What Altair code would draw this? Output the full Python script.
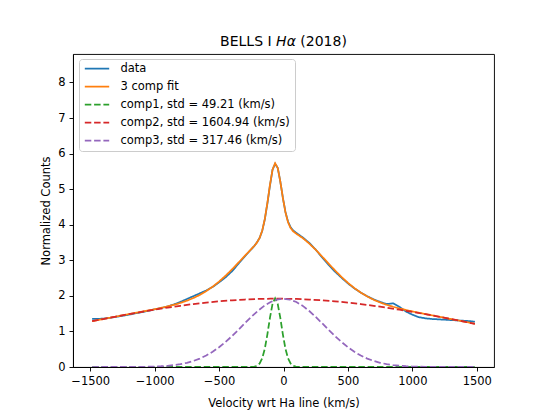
import altair as alt
import pandas as pd

# ---------------- data ----------------
NAMES = [
    "data",
    "3 comp fit",
    "comp1, std = 49.21 (km/s)",
    "comp2, std = 1604.94 (km/s)",
    "comp3, std = 317.46 (km/s)",
]
COLORS = ["#1f77b4", "#ff7f0e", "#2ca02c", "#d62728", "#9467bd"]
DASHES = [[1, 0], [1, 0], [6.5, 2.8], [6.5, 2.8], [6.5, 2.8]]

# velocity grid of the observed spectrum and of the total fit
X_SPEC = [
    -1485, -1450, -1400, -1350, -1300, -1250, -1200, -1150, -1100, -1050,
    -1000, -950, -900, -850, -800, -750, -700, -650, -600, -550,
    -500, -450, -400, -350, -300,
    -285, -265, -245, -225, -205, -185, -165, -145, -125, -105,
    -85, -65, -45, -25, -5, 15, 35, 55, 75, 95, 115,
    150, 200, 250, 300, 350, 400, 450, 500, 550, 600,
    650, 700, 750, 800, 850, 900, 950, 1000, 1050, 1100,
    1150, 1200, 1250, 1300, 1350, 1400, 1450, 1485,
]
FIT = [
    1.288, 1.313, 1.348, 1.383, 1.418, 1.453, 1.487, 1.521, 1.555, 1.589,
    1.624, 1.662, 1.704, 1.749, 1.801, 1.864, 1.938, 2.026, 2.133, 2.257,
    2.401, 2.564, 2.743, 2.933, 3.126,
    3.183, 3.259, 3.334, 3.412, 3.504, 3.632, 3.837, 4.161, 4.613, 5.124,
    5.549, 5.730, 5.598, 5.221, 4.757, 4.351, 4.071, 3.906, 3.815, 3.758, 3.710,
    3.622, 3.471, 3.295, 3.104, 2.907, 2.714, 2.532, 2.366, 2.218, 2.091,
    1.982, 1.890, 1.814, 1.749, 1.694, 1.646, 1.603, 1.563, 1.526, 1.490,
    1.455, 1.420, 1.384, 1.348, 1.313, 1.277, 1.241, 1.215,
]
DATA = [
    1.35, 1.35, 1.36, 1.38, 1.41, 1.44, 1.47, 1.51, 1.54, 1.58,
    1.62, 1.66, 1.70, 1.76, 1.83, 1.91, 1.99, 2.07, 2.15, 2.25,
    2.38, 2.52, 2.69, 2.90, 3.11,
    3.17, 3.25, 3.33, 3.41, 3.51, 3.63, 3.83, 4.15, 4.60, 5.10,
    5.55, 5.71, 5.60, 5.22, 4.76, 4.36, 4.09, 3.93, 3.84, 3.78, 3.73,
    3.64, 3.49, 3.30, 3.08, 2.87, 2.68, 2.51, 2.35, 2.21, 2.09,
    1.99, 1.90, 1.83, 1.77, 1.79, 1.69, 1.56, 1.47, 1.40, 1.37,
    1.35, 1.34, 1.33, 1.32, 1.31, 1.30, 1.29, 1.27,
]

# narrow component (comp1)
X_C1 = [-1485, -265, -245, -225, -205, -185, -165, -145, -125, -105, -85,
        -65, -45, -25, -5, 15, 35, 55, 75, 95, 115, 135, 1485]
C1 = [0.0, 0.0005, 0.0024, 0.0098, 0.0337, 0.0987, 0.2448, 0.5148, 0.9179, 1.387, 1.777,
      1.93, 1.777, 1.387, 0.9179, 0.5148, 0.2448, 0.0987, 0.0337, 0.0098, 0.0024, 0.0005, 0.0]

# very broad component (comp2)
X_C2 = [-1485, -1400, -1300, -1200, -1100, -1000, -900, -800, -700, -600,
        -500, -400, -300, -200, -100, 0, 100, 200, 300, 400,
        500, 600, 700, 800, 900, 1000, 1100, 1200, 1300, 1400, 1485]
C2 = [1.287, 1.348, 1.418, 1.485, 1.550, 1.611, 1.669, 1.721, 1.769, 1.811,
      1.846, 1.875, 1.897, 1.912, 1.919, 1.919, 1.912, 1.897, 1.875, 1.846,
      1.811, 1.769, 1.721, 1.669, 1.611, 1.550, 1.485, 1.418, 1.348, 1.277, 1.215]

# intermediate component (comp3)
X_C3 = [-1485, -1200, -1100, -1000, -950, -900, -850, -800, -750, -700, -650,
        -600, -550, -500, -450, -400, -350, -300, -250, -200, -150, -100, -50,
        0, 50, 100, 150, 200, 250, 300, 350, 400, 450, 500, 550, 600, 650,
        700, 750, 800, 850, 900, 950, 1000, 1100, 1200, 1485]
C3 = [0.0, 0.0015, 0.0047, 0.0134, 0.0218, 0.0345, 0.0533, 0.0802, 0.1178, 0.169, 0.236,
      0.322, 0.428, 0.555, 0.703, 0.868, 1.046, 1.229, 1.408, 1.574, 1.717, 1.827, 1.896,
      1.920, 1.896, 1.827, 1.717, 1.574, 1.408, 1.229, 1.046, 0.868, 0.703, 0.555, 0.428, 0.322, 0.236,
      0.169, 0.1178, 0.0802, 0.0533, 0.0345, 0.0218, 0.0134, 0.0047, 0.0015, 0.0]

X_TICKS = [-1500, -1000, -500, 0, 500, 1000, 1500]
Y_TICKS = [0, 1, 2, 3, 4, 5, 6, 7, 8]
X_DOMAIN = [-1633.5, 1633.5]
Y_DOMAIN = [0, 8.8]

FONT = "DejaVu Sans"

# ---------------- chart ----------------
series = [
    (X_SPEC, DATA, NAMES[0]),
    (X_SPEC, FIT, NAMES[1]),
    (X_C1, C1, NAMES[2]),
    (X_C2, C2, NAMES[3]),
    (X_C3, C3, NAMES[4]),
]

legend = alt.Legend(
    title=None, orient="none", legendX=6, legendY=5, direction="vertical",
    symbolType="stroke", symbolSize=595, symbolStrokeWidth=1.75,
    labelFont=FONT, labelFontSize=11.5, labelColor="black", labelLimit=400,
    padding=4.5, rowPadding=6, clipHeight=10, labelOffset=10, symbolOffset=0,
    fillColor="rgba(255,255,255,0.8)", strokeColor="#cccccc", cornerRadius=3,
)

x_enc = alt.X(
    "x:Q",
    scale=alt.Scale(domain=X_DOMAIN, nice=False, zero=False),
    axis=alt.Axis(values=X_TICKS, format="d", title="Velocity wrt Ha line (km/s)",
                  titleX=210.5, titleY=39, titleBaseline="alphabetic", titleAlign="center"),
)
y_enc = alt.Y(
    "y:Q",
    scale=alt.Scale(domain=Y_DOMAIN, nice=False, zero=False),
    axis=alt.Axis(values=Y_TICKS, format="d", title="Normalized Counts",
                  titleX=-27, titleY=156.5, titleAngle=270, titleBaseline="middle",
                  titleAlign="center"),
)

layers = []
for xs, ys, name in series:
    df = pd.DataFrame({"x": xs, "y": ys, "series": name})
    layers.append(
        alt.Chart(df).mark_line(strokeWidth=1.75, clip=True).encode(
            x=x_enc,
            y=y_enc,
            color=alt.Color("series:N", scale=alt.Scale(domain=NAMES, range=COLORS), legend=legend),
            strokeDash=alt.StrokeDash("series:N", scale=alt.Scale(domain=NAMES, range=DASHES), legend=legend),
        )
    )

# title: "BELLS I " + italic "Hα" + " (2018)"
TITLE_PARTS = ["BELLS I", "Hα", "(2018)"]
t1 = alt.Chart(pd.DataFrame({"t": [TITLE_PARTS[0]]})).mark_text(
    font=FONT, fontSize=14, align="left", baseline="alphabetic", color="black"
).encode(x=alt.value(147.1), y=alt.value(-7.9), text="t:N")
t2 = alt.Chart(pd.DataFrame({"t": [TITLE_PARTS[1]]})).mark_text(
    font=FONT, fontSize=14, fontStyle="italic", align="left", baseline="alphabetic", color="black"
).encode(x=alt.value(203.1), y=alt.value(-7.9), text="t:N")
t3 = alt.Chart(pd.DataFrame({"t": [TITLE_PARTS[2]]})).mark_text(
    font=FONT, fontSize=14, align="left", baseline="alphabetic", color="black"
).encode(x=alt.value(227.3), y=alt.value(-7.9), text="t:N")

chart = alt.layer(*layers, t1, t2, t3).properties(
    width=421,
    height=313,
    autosize=alt.AutoSizeParams(type="none"),
    padding={"left": 65, "top": 46, "right": 40, "bottom": 45},
    background="white",
).configure_view(
    stroke="black", strokeWidth=0.93
).configure_axis(
    grid=False,
    domainColor="black", domainWidth=0.93,
    tickColor="black", tickWidth=0.93, tickSize=4,
    labelFont=FONT, labelFontSize=11.5, labelColor="black", labelPadding=4,
    titleFont=FONT, titleFontSize=11.5, titleColor="black", titleFontWeight="normal",
)

chart.save("out.html", embed_options={"renderer": "svg", "actions": False})
